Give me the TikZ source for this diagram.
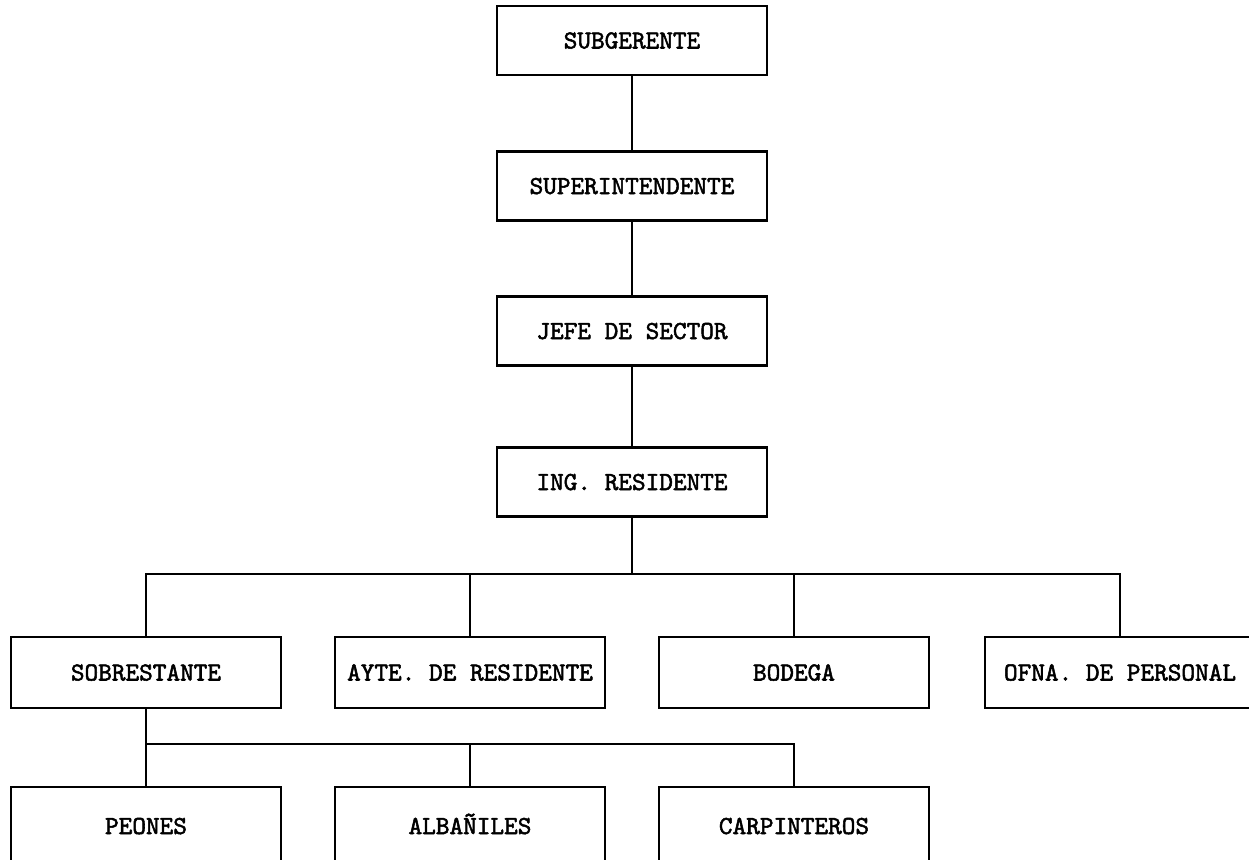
\documentclass[tikz,border=0pt]{standalone}
\usepackage{fontspec}
\newfontfamily\tw{lmmono10-regular.otf}[FakeBold=2]
\begin{document}
\begin{tikzpicture}[x=1pt,y=-1pt,
  box/.style={draw, line width=2.4pt, minimum width=270pt, minimum height=69pt,
    inner sep=0pt, text height=16pt, text depth=0pt,
    font=\tw\fontsize{26}{28}\selectfont},
  tallbox/.style={box, minimum height=78pt},
  conn/.style={line width=2.4pt}]
\useasboundingbox (0,0) rectangle (1249,859);
\clip (0,0) rectangle (1249,859);
% column
\node[box] (subg)  at (632,40.5) {SUBGERENTE};
\node[box] (super) at (632,186)  {SUPERINTENDENTE};
\node[box] (jefe)  at (632,331)  {JEFE DE SECTOR};
\node[box] (ing)   at (632,482)  {ING. RESIDENTE};
% second row
\node[box, minimum height=71pt] (sob)  at (146,672.5)  {SOBRESTANTE};
\node[box, minimum height=71pt] (ayte) at (470,672.5)  {AYTE. DE RESIDENTE};
\node[box, minimum height=71pt] (bod)  at (794,672.5)  {BODEGA};
\node[box, minimum height=71pt] (ofna) at (1120,672.5) {OFNA. DE PERSONAL};
% third row
\node[tallbox] (peon) at (146,826) {PEONES};
\node[tallbox] (alb)  at (470,826) {ALBAÑILES};
\node[tallbox] (carp) at (794,826) {CARPINTEROS};
% connectors
\coordinate (b1) at (632,574);
\coordinate (b2) at (146,744);
\draw[conn] (subg.south) -- (super.north);
\draw[conn] (super.south) -- (jefe.north);
\draw[conn] (jefe.south) -- (ing.north);
\draw[conn] (ing.south) -- (b1);
\draw[conn] (sob.north) -- (sob.north |- b1) -- (ofna.north |- b1) -- (ofna.north);
\draw[conn] (ayte.north |- b1) -- (ayte.north);
\draw[conn] (bod.north |- b1) -- (bod.north);
\draw[conn] (sob.south) -- (peon.north);
\draw[conn] (b2) -- (carp.north |- b2) -- (carp.north);
\draw[conn] (alb.north |- b2) -- (alb.north);
\end{tikzpicture}
\end{document}
